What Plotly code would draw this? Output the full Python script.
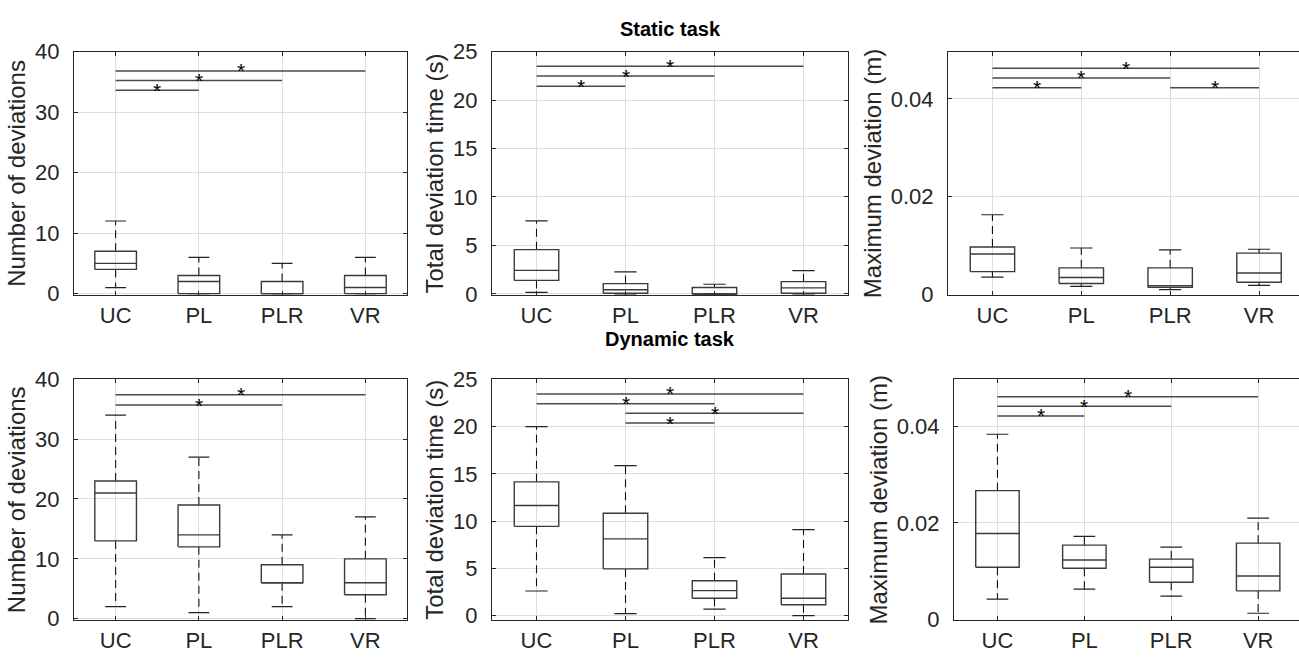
import plotly.graph_objects as go

cats = ["UC", "PL", "PLR", "VR"]

# ---- Static task ----
ns_lo = [1, 0, 0, 0]
ns_q1 = [4, 0, 0, 0]
ns_med = [5, 2, 0, 1]
ns_q3 = [7, 3, 2, 3]
ns_hi = [12, 6, 5, 6]

ts_lo = [0.17, 0.0, 0.0, 0.0]
ts_q1 = [1.4, 0.07, 0.0, 0.07]
ts_med = [2.43, 0.43, 0.0, 0.63]
ts_q3 = [4.57, 1.07, 0.67, 1.27]
ts_hi = [7.53, 2.27, 1.0, 2.4]

ms_lo = [0.00354, 0.00164, 0.00098, 0.00184]
ms_q1 = [0.00466, 0.00223, 0.00144, 0.00249]
ms_med = [0.00826, 0.00348, 0.00177, 0.00439]
ms_q3 = [0.0097, 0.00544, 0.00544, 0.00846]
ms_hi = [0.0163, 0.0095, 0.0091, 0.00925]

# ---- Dynamic task ----
nd_lo = [2, 1, 2, 0]
nd_q1 = [13, 12, 6, 4]
nd_med = [21, 14, 6, 6]
nd_q3 = [23, 19, 9, 10]
nd_hi = [34, 27, 14, 17]

td_lo = [2.6, 0.2, 0.68, 0.0]
td_q1 = [9.44, 4.94, 1.83, 1.15]
td_med = [11.64, 8.12, 2.64, 1.83]
td_q3 = [14.15, 10.83, 3.69, 4.4]
td_hi = [20.0, 15.87, 6.13, 9.1]

md_lo = [0.0042, 0.00625, 0.0048, 0.00126]
md_q1 = [0.0108, 0.0106, 0.0077, 0.0059]
md_med = [0.0178, 0.0123, 0.0108, 0.0090]
md_q3 = [0.0267, 0.0154, 0.0125, 0.0158]
md_hi = [0.0384, 0.0172, 0.0150, 0.0210]

# significance bars: (group i, group j, y level)
sig_ns = [(1, 2, 33.6), (1, 3, 35.2), (1, 4, 36.8)]
sig_ts = [(1, 2, 21.43), (1, 3, 22.47), (1, 4, 23.47)]
sig_ms = [(1, 2, 0.0423), (1, 3, 0.0443), (1, 4, 0.0463), (3, 4, 0.0423)]
sig_nd = [(1, 3, 35.7), (1, 4, 37.4)]
sig_td = [(1, 4, 23.45), (1, 3, 22.4), (2, 4, 21.4), (2, 3, 20.37)]
sig_md = [(1, 2, 0.0422), (1, 3, 0.0442), (1, 4, 0.0462)]

ylabels = ["Number of deviations", "Total deviation time (s)", "Maximum deviation (m)"]

panels = [
    # (stats, sig, yrange, dtick, xdomain, ydomain, xrange, ylabel)
    ((ns_lo, ns_q1, ns_med, ns_q3, ns_hi), sig_ns, [-0.3, 40], 10,
     [74 / 1299, 407 / 1299], [1 - 294 / 667, 1 - 41 / 667], [0.5, 4.5], ylabels[0]),
    ((ts_lo, ts_q1, ts_med, ts_q3, ts_hi), sig_ts, [-0.15, 25], 5,
     [492 / 1299, 848 / 1299], [1 - 294 / 667, 1 - 41 / 667], [0.5, 4.5], ylabels[1]),
    ((ms_lo, ms_q1, ms_med, ms_q3, ms_hi), sig_ms, [-0.0002, 0.0497], 0.02,
     [948 / 1299, 1.0], [1 - 294 / 667, 1 - 41 / 667], [0.5, 4.45], ylabels[2]),
    ((nd_lo, nd_q1, nd_med, nd_q3, nd_hi), sig_nd, [-0.27, 40], 10,
     [74 / 1299, 407 / 1299], [1 - 631 / 667, 1 - 381 / 667], [0.5, 4.5], ylabels[0]),
    ((td_lo, td_q1, td_med, td_q3, td_hi), sig_td, [-0.5, 25], 5,
     [492 / 1299, 848 / 1299], [1 - 631 / 667, 1 - 381 / 667], [0.5, 4.5], ylabels[1]),
    ((md_lo, md_q1, md_med, md_q3, md_hi), sig_md, [-0.0002, 0.0498], 0.02,
     [954 / 1299, 1.0], [1 - 631 / 667, 1 - 381 / 667], [0.5, 4.47], ylabels[2]),
]

HALF = 0.25   # half box width (category units)
CAP = 0.125   # half cap width
FONT = "Liberation Sans, Arial, Helvetica, sans-serif"
AXC = "#262626"

fig = go.Figure()
annotations = []
layout = {}

for k, (stats, sig, yr, dt, xd, yd, xr, ylab) in enumerate(panels):
    idx = "" if k == 0 else str(k + 1)
    xa, ya = "x" + idx, "y" + idx
    lo, q1, med, q3, hi = stats
    bx, by, wx, wy, cx, cy = [], [], [], [], [], []
    for i in range(len(cats)):
        c = i + 1
        bx += [c - HALF, c + HALF, c + HALF, c - HALF, c - HALF, None, c - HALF, c + HALF, None]
        by += [q1[i], q1[i], q3[i], q3[i], q1[i], None, med[i], med[i], None]
        wx += [c, c, None, c, c, None]
        wy += [q3[i], hi[i], None, q1[i], lo[i], None]
        cx += [c - CAP, c + CAP, None, c - CAP, c + CAP, None]
        cy += [hi[i], hi[i], None, lo[i], lo[i], None]
    fig.add_trace(go.Scatter(x=wx, y=wy, mode="lines", xaxis=xa, yaxis=ya,
                             line=dict(color="#111111", width=1.1, dash="8px,5px"),
                             showlegend=False, hoverinfo="skip"))
    fig.add_trace(go.Scatter(x=cx, y=cy, mode="lines", xaxis=xa, yaxis=ya,
                             line=dict(color="#222222", width=1.2),
                             showlegend=False, hoverinfo="skip"))
    fig.add_trace(go.Scatter(x=bx, y=by, mode="lines", xaxis=xa, yaxis=ya,
                             line=dict(color="#3a3a3a", width=1.4),
                             showlegend=False, hoverinfo="skip"))
    sx, sy = [], []
    for (a, b, yv) in sig:
        sx += [a, b, None]
        sy += [yv, yv, None]
        annotations.append(dict(x=(a + b) / 2, y=yv, xref=xa, yref=ya, text="*",
                                showarrow=False, yanchor="middle", yshift=0,
                                font=dict(family=FONT, size=21, color="#000000")))
    fig.add_trace(go.Scatter(x=sx, y=sy, mode="lines", xaxis=xa, yaxis=ya,
                             line=dict(color="#4a4a4a", width=1.5),
                             showlegend=False, hoverinfo="skip"))

    right_col = (k % 3 == 2)
    layout["xaxis" + idx] = dict(
        domain=xd, range=xr, anchor=ya, tickvals=[1, 2, 3, 4], ticktext=cats,
        showgrid=True, gridcolor="#dedede", gridwidth=1, zeroline=False,
        showline=True, linecolor=AXC, linewidth=1, mirror="ticks",
        ticks="inside", ticklen=4, tickcolor=AXC, ticklabelstandoff=0,
        tickfont=dict(family=FONT, size=22, color=AXC), fixedrange=True)
    layout["yaxis" + idx] = dict(
        domain=yd, range=yr, anchor=xa, dtick=dt, tick0=0,
        showgrid=True, gridcolor="#dedede", gridwidth=1, zeroline=False,
        showline=True, linecolor=AXC, linewidth=1,
        mirror=(False if right_col else "ticks"),
        ticks="inside", ticklen=4, tickcolor=AXC, ticklabelstandoff=9,
        tickfont=dict(family=FONT, size=22, color=AXC),
        title=dict(text=ylab, standoff=2, font=dict(family=FONT, size=24, color=AXC)),
        fixedrange=True)

annotations.append(dict(x=670 / 1299, y=1 - 18 / 667, xref="paper", yref="paper",
                        text="<b>Static task</b>", showarrow=False,
                        xanchor="center", yanchor="middle",
                        font=dict(family=FONT, size=20, color="#000000")))
annotations.append(dict(x=670 / 1299, y=1 - 339 / 667, xref="paper", yref="paper",
                        text="<b>Dynamic task</b>", showarrow=False,
                        xanchor="center", yanchor="middle",
                        font=dict(family=FONT, size=20, color="#000000")))

fig.update_layout(
    width=1299, height=667, margin=dict(l=0, r=0, t=0, b=0),
    paper_bgcolor="#ffffff", plot_bgcolor="#ffffff",
    annotations=annotations, showlegend=False, **layout)

page_fix = (
    "var d=document.getElementById('{plot_id}');"
    "d.style.position='fixed';d.style.top='0px';d.style.left='0px';"
    "document.body.style.margin='0px';"
    "document.body.style.overflow='hidden';"
    "document.documentElement.style.overflow='hidden';"
)

fig.write_html("out.html", config={"displayModeBar": False}, post_script=page_fix)
